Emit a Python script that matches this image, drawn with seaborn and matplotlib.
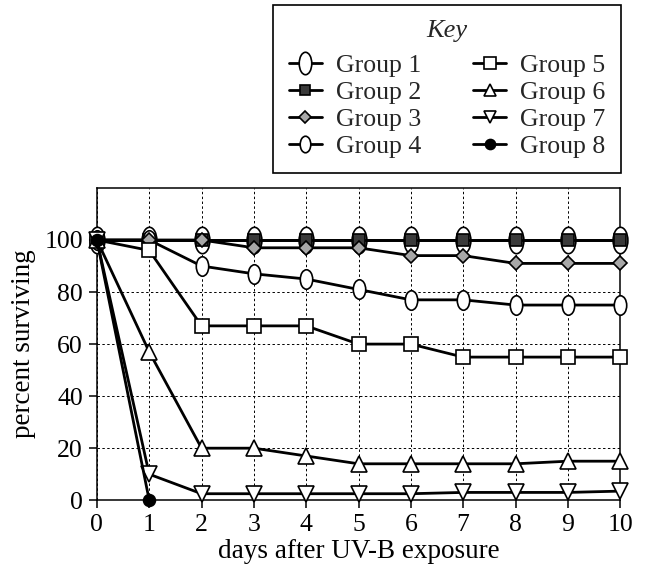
import numpy as np
import matplotlib
matplotlib.use("Agg")
import matplotlib.pyplot as plt
import seaborn as sns
from matplotlib.path import Path
from matplotlib.transforms import Affine2D

# Data (percent surviving by day)
days = [0, 1, 2, 3, 4, 5, 6, 7, 8, 9, 10]
group1 = [100, 100, 100, 100, 100, 100, 100, 100, 100, 100, 100]
group2 = [100, 100, 100, 100, 100, 100, 100, 100, 100, 100, 100]
group3 = [100, 100, 100, 97, 97, 97, 94, 94, 91, 91, 91]
group4 = [100, 100, 90, 87, 85, 81, 77, 77, 75, 75, 75]
group5 = [100, 96, 67, 67, 67, 60, 60, 55, 55, 55, 55]
group6 = [100, 57, 20, 20, 17, 14, 14, 14, 14, 15, 15]
group7 = [100, 10, 2.5, 2.5, 2.5, 2.5, 2.5, 3, 3, 3, 3.5]
days8 = [0, 1]
group8 = [100, 0]

sns.set_theme(style="ticks")
plt.rcParams['font.family'] = ['Liberation Serif', 'DejaVu Serif']

# tall ellipse markers
tall_ellipse = Path.unit_circle().transformed(Affine2D().scale(0.56, 1.0))
small_ellipse = Path.unit_circle().transformed(Affine2D().scale(0.64, 1.0))

fig = plt.figure(figsize=(6.46, 5.73), dpi=100)
ax = fig.add_axes([0.150, 0.127, 0.810, 0.545])

lw = 2.0
mew = 1.2
series = [
    (days, group1, "Group 1", tall_ellipse, 19, "white"),
    (days, group2, "Group 2", "s", 9, "#3a3a3a"),
    (days, group4, "Group 4", small_ellipse, 14, "white"),
    (days, group3, "Group 3", "D", 7.5, "#a8a8a8"),
    (days, group5, "Group 5", "s", 9.5, "white"),
    (days, group6, "Group 6", "^", 11, "white"),
    (days, group7, "Group 7", "v", 11, "white"),
    (days8, group8, "Group 8", "o", 8.5, "black"),
]
for i, (x, y, name, mk, ms, fc) in enumerate(series):
    sns.lineplot(x=x, y=y, ax=ax, color="black", linewidth=lw,
                 marker=mk, markersize=ms, markerfacecolor=fc,
                 markeredgecolor="black", markeredgewidth=mew,
                 label=name, clip_on=False, zorder=3 + i)

ax.set_xlim(0, 10)
ax.set_ylim(0, 120)
ax.set_xticks(range(0, 11))
ax.set_yticks(range(0, 101, 20))
ax.grid(True, color="black", linestyle=(0, (2.5, 2.5)), linewidth=0.7)
for s in ax.spines.values():
    s.set_color("black")
    s.set_linewidth(1.1)
ax.tick_params(axis="both", direction="out", length=6, width=1.1,
               colors="black", labelsize=18.5, pad=4)
ax.set_xlabel("days after UV-B exposure", fontsize=19.5, color="black", labelpad=2)
ax.set_ylabel("percent surviving", fontsize=19.5, color="black", labelpad=6)

handles, labels = ax.get_legend_handles_labels()
order = ["Group 1", "Group 2", "Group 3", "Group 4",
         "Group 5", "Group 6", "Group 7", "Group 8"]
hmap = dict(zip(labels, handles))
ax.get_legend().remove()
leg = fig.legend([hmap[k] for k in order], order, ncol=2,
                 loc="upper right", bbox_to_anchor=(621 / 646, 1 - 5 / 573),
                 borderaxespad=0,
                 fontsize=18.5, title="Key",
                 title_fontproperties={"style": "italic", "size": 19},
                 frameon=True, fancybox=False, framealpha=1,
                 edgecolor="black", handlelength=1.3, handletextpad=0.55,
                 columnspacing=2.0, labelspacing=0.16, borderpad=0.6,
                 markerscale=0.85)
leg._legend_box.sep = 8
leg.get_frame().set_linewidth(1.2)

fig.savefig("out.png", dpi=100)
